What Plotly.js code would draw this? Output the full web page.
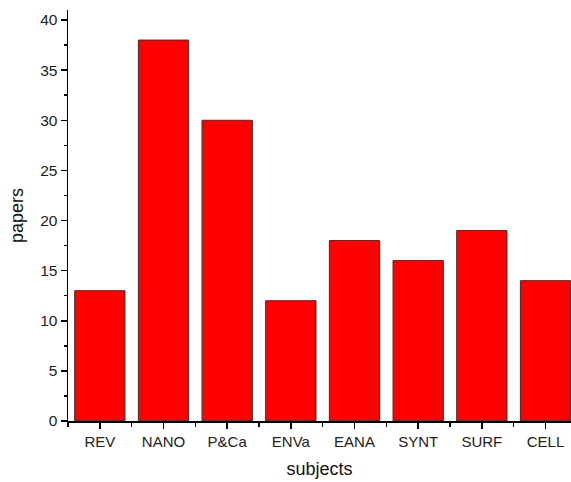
<!DOCTYPE html>
<html>
<head>
<script src="https://cdn.plot.ly/plotly-3.0.1.min.js"></script>
<style>html,body{margin:0;padding:0;background:#fff;}#chart{width:571px;height:482px;}</style>
</head>
<body>
<div id="chart"></div>
<script>
const categories = ["REV", "NANO", "P&Ca", "ENVa", "EANA", "SYNT", "SURF", "CELL"];
const papers = [13, 38, 30, 12, 18, 16, 19, 14];
const yTicks = [0, 5, 10, 15, 20, 25, 30, 35, 40];

const xPos = categories.map((c, i) => i);

const trace = {
  type: "bar",
  x: xPos,
  y: papers,
  width: 0.79,
  marker: { color: "#ff0000", line: { color: "#333333", width: 1 } },
  hoverinfo: "none"
};

const layout = {
  width: 571,
  height: 482,
  margin: { l: 68, r: 0, t: 10, b: 61 },
  paper_bgcolor: "#ffffff",
  plot_bgcolor: "#ffffff",
  showlegend: false,
  font: { family: "Liberation Sans, Arial, sans-serif", color: "#222222" },
  xaxis: {
    range: [-0.5, 7.4],
    tickmode: "array",
    tickvals: xPos,
    ticktext: categories,
    ticks: "outside",
    ticklen: 6,
    tickwidth: 1.5,
    tickcolor: "#000",
    showline: true,
    linecolor: "#000",
    linewidth: 1.5,
    showgrid: false,
    zeroline: false,
    tickfont: { size: 15, color: "#222" },
    minor: { tick0: 0.5, dtick: 1, ticks: "outside", ticklen: 4, tickcolor: "#000", tickwidth: 1.5, showgrid: false },
    title: { text: "subjects", font: { size: 18, color: "#111" }, standoff: 14 }
  },
  yaxis: {
    range: [0, 41],
    tickmode: "array",
    tickvals: yTicks,
    ticks: "outside",
    ticklen: 6,
    tickwidth: 1.5,
    tickcolor: "#000",
    showline: true,
    linecolor: "#000",
    linewidth: 1.5,
    showgrid: false,
    zeroline: false,
    tickfont: { size: 15.5, color: "#222" },
    minor: { tick0: 0, dtick: 2.5, ticks: "outside", ticklen: 3, tickcolor: "#000", tickwidth: 1.5, showgrid: false },
    title: { text: "papers", font: { size: 18, color: "#111" }, standoff: 12 }
  }
};

Plotly.newPlot("chart", [trace], layout, { staticPlot: true, displayModeBar: false });
</script>
</body>
</html>
